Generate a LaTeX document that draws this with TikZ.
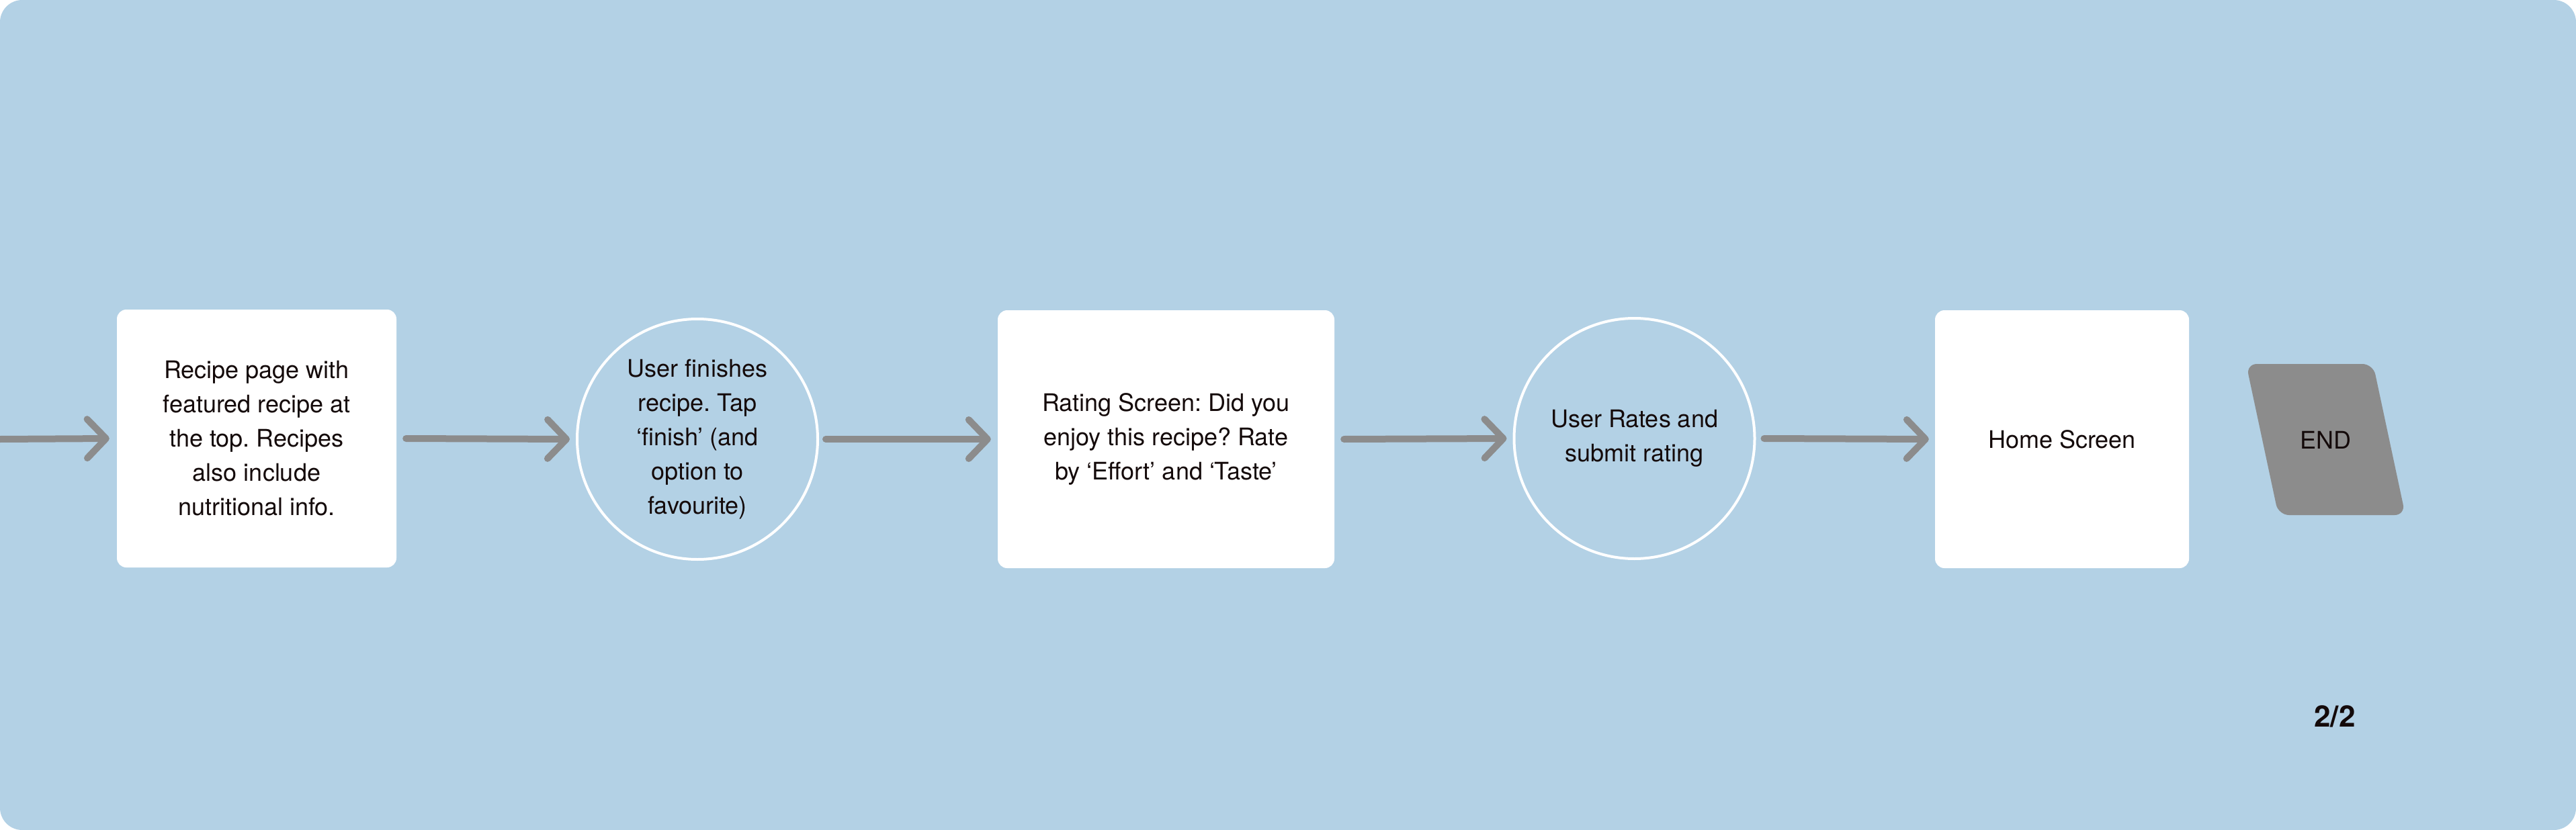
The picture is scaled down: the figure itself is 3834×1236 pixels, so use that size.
\documentclass[tikz,border=0pt]{standalone}
\usepackage{fontspec}
\setmainfont{TeX Gyre Heros}
\usetikzlibrary{arrows.meta}
\definecolor{bgblue}{HTML}{B3D1E5}
\definecolor{arrgray}{HTML}{8C8C8C}
\definecolor{ink}{HTML}{140A0A}
\frenchspacing
\begin{document}
\begin{tikzpicture}[x=1pt,y=-1pt,
  txt/.style={font=\fontsize{36pt}{51pt}\selectfont\frenchspacing, text=ink, align=center, inner sep=0pt},
  card/.style={txt, rectangle, fill=white, rounded corners=14pt, minimum height=384pt},
  ring/.style={txt, circle, draw=white, line width=4pt, minimum size=358pt},
  flow/.style={draw=arrgray, line width=10pt, line cap=round, -{Straight Barb[length=28pt,width=58pt,round]}},
]
\fill[white] (0,0) rectangle (3834,1236);
\useasboundingbox (0,0) rectangle (3834,1236);
\fill[bgblue, rounded corners=33pt] (0,0) rectangle (3834,1236);

\node[card, minimum width=416pt] (b1) at (382,653) {Recipe page with\\featured recipe at\\the top. Recipes\\also include\\nutritional info.};
\node[ring] (c1) at (1038,654) {User finishes\\recipe. Tap\\‘finish’ (and\\option to\\favourite)};
\node[card, minimum width=501pt] (b2) at (1735.5,654) {Rating Screen: Did you\\enjoy this recipe? Rate\\by ‘Effort’ and ‘Taste’};
\node[ring] (c2) at (2432.5,653) {User Rates and\\submit rating};
\node[card, minimum width=378pt] (b3) at (3069,654) {Home Screen};

\fill[arrgray, rounded corners=16pt] (3437,542) -- (3532,542) -- (3580,767) -- (3391,767) -- (3343,542) -- cycle;
\node[txt] (endn) at (3461.5,655) {END};

\node[font=\bfseries\fontsize{44pt}{50pt}\selectfont, text=ink, inner sep=0pt] (pg) at (3475,1067) {2/2};

\coordinate (in) at (0,654);
\draw[flow] (in) -- ([xshift=-11pt]b1.west);
\draw[flow] ([xshift=14pt]b1.east) -- ([xshift=-9pt]c1.west);
\draw[flow] ([xshift=10pt]c1.east) -- ([xshift=-10pt]b2.west);
\draw[flow] ([xshift=14pt]b2.east) -- ([xshift=-9pt]c2.west);
\draw[flow] ([xshift=12pt]c2.east) -- ([xshift=-9pt]b3.west);
\end{tikzpicture}
\end{document}
